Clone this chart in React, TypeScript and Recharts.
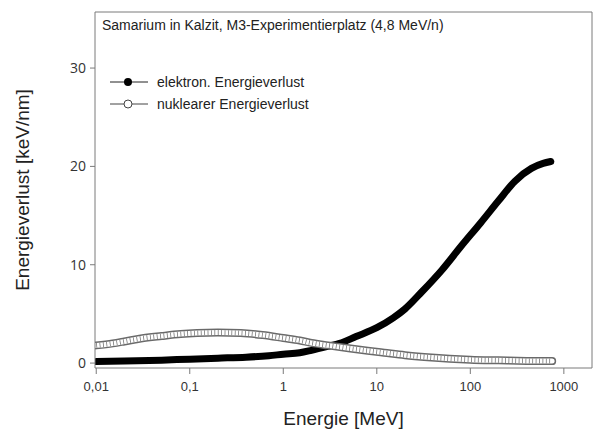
import { Customized, Line, LineChart, ReferenceLine, XAxis, YAxis } from 'recharts'

// (energy in MeV, loss in keV/nm)
const energyElectronic = [0.01, 0.02, 0.05, 0.1, 0.2, 0.4, 0.7, 1, 1.5, 2, 3, 4, 6, 10, 15, 20, 30, 50, 80, 130, 200, 300, 450, 600, 725]
const lossElectronic = [0.15, 0.2, 0.3, 0.4, 0.5, 0.6, 0.75, 0.9, 1.05, 1.3, 1.7, 2.0, 2.7, 3.6, 4.6, 5.5, 7.2, 9.5, 11.9, 14.3, 16.5, 18.5, 19.8, 20.3, 20.5]

const energyNuclear = [0.01, 0.015, 0.02, 0.03, 0.05, 0.08, 0.12, 0.2, 0.35, 0.6, 1, 1.5, 2, 3, 5, 8, 12, 20, 35, 60, 100, 200, 400, 750]
const lossNuclear = [1.8, 2.0, 2.2, 2.5, 2.75, 2.95, 3.05, 3.1, 3.05, 2.85, 2.55, 2.3, 2.05, 1.8, 1.5, 1.25, 1.05, 0.8, 0.6, 0.45, 0.35, 0.28, 0.22, 0.2]

const xTicks = [0.01, 0.1, 1, 10, 100, 1000]
const yTicks = [0, 10, 20, 30]

const title = 'Samarium in Kalzit, M3-Experimentierplatz (4,8 MeV/n)'
const seriesNames = ['elektron. Energieverlust', 'nuklearer Energieverlust']

const xDomain = [0.0097, 2000]
const yDomain = [-0.5, 35.7]

const electronic = energyElectronic.map((e, i) => ({ e, v: lossElectronic[i] }))
const nuclear = energyNuclear.map((e, i) => ({ e, v: lossNuclear[i] }))

const axisColor = '#7a7a7a'
const textColor = '#222'

function Annotations() {
  return (
    <g fontFamily="Arial, 'Liberation Sans', sans-serif" fontSize={14} fill={textColor}>
      <text x={102} y={30}>{title}</text>
      {/* legend */}
      <line x1={110} x2={148} y1={82} y2={82} stroke="#222" strokeWidth={1} />
      <circle cx={128} cy={82} r={4} fill="#000" />
      <text x={157} y={87}>{seriesNames[0]}</text>
      <line x1={110} x2={148} y1={104} y2={104} stroke="#444" strokeWidth={1} />
      <circle cx={128} cy={104} r={4} fill="#fff" stroke="#444" strokeWidth={1} />
      <text x={157} y={109}>{seriesNames[1]}</text>
    </g>
  )
}

export default function App() {
  return (
    <div style={{ position: 'absolute', left: 0, top: 0, width: 595, height: 435, background: '#fff' }}>
      <LineChart width={595} height={435} margin={{ top: 12, right: 3, left: 0, bottom: 0 }}>
        <XAxis
          dataKey="e"
          type="number"
          scale="log"
          domain={xDomain}
          allowDataOverflow
          ticks={xTicks}
          tickFormatter={(v: number) => String(v).replace('.', ',')}
          stroke={axisColor}
          tickSize={6}
          tickMargin={8}
          height={67}
          tick={{ fill: '#333', fontSize: 13, fontFamily: 'Arial, sans-serif' }}
          label={{ value: 'Energie [MeV]', position: 'insideBottom', offset: 10, fill: textColor, fontSize: 19, fontFamily: 'Arial, sans-serif' }}
        />
        <YAxis
          type="number"
          domain={yDomain}
          allowDataOverflow
          ticks={yTicks}
          stroke={axisColor}
          tickSize={5}
          tickMargin={4}
          width={95}
          tick={{ fill: '#333', fontSize: 14, fontFamily: "'Open Sans', sans-serif" }}
          label={{ value: 'Energieverlust [keV/nm]', angle: -90, position: 'insideLeft', offset: 22, style: { textAnchor: 'middle' }, fill: textColor, fontSize: 19, fontFamily: 'Arial, sans-serif' }}
        />
        {/* frame: top and right edges */}
        <ReferenceLine y={yDomain[1]} stroke={axisColor} strokeWidth={1} />
        <ReferenceLine x={xDomain[1]} stroke={axisColor} strokeWidth={1} />
        <Line data={electronic} dataKey="v" type="monotone" stroke="#000" strokeWidth={7} strokeLinecap="round" dot={false} isAnimationActive={false} />
        <Line data={nuclear} dataKey="v" type="monotone" stroke="#6a6a6a" strokeWidth={8} strokeLinecap="round" dot={false} isAnimationActive={false} />
        <Line data={nuclear} dataKey="v" type="monotone" stroke="#fff" strokeWidth={5} strokeLinecap="round" dot={false} isAnimationActive={false} />
        <Line data={nuclear} dataKey="v" type="monotone" stroke="#777" strokeWidth={5} strokeDasharray="0.8 2.6" dot={false} isAnimationActive={false} />
        <Customized component={<Annotations />} />
      </LineChart>
    </div>
  )
}
